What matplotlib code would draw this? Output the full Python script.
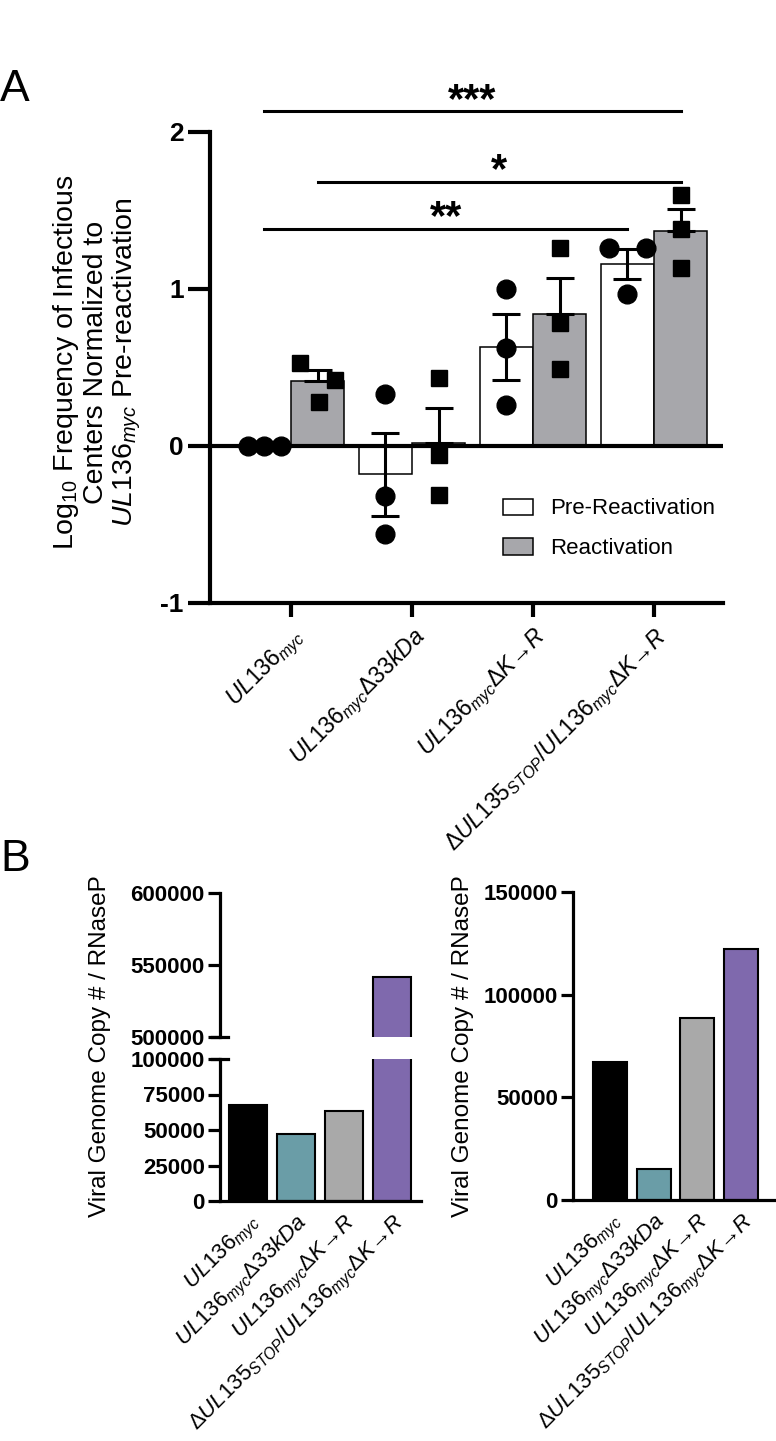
import matplotlib
matplotlib.use("Agg")
import matplotlib.pyplot as plt
from matplotlib.patches import Patch
from matplotlib.lines import Line2D
import numpy as np

plt.rcParams['font.family'] = ['Liberation Sans', 'DejaVu Sans']
plt.rcParams['mathtext.fontset'] = 'custom'
plt.rcParams['mathtext.rm'] = 'Liberation Sans'
plt.rcParams['mathtext.it'] = 'Liberation Sans:italic'
plt.rcParams['mathtext.bf'] = 'Liberation Sans:bold'

# ---------------- data ----------------
labels = [r"$\mathit{UL136}_{\mathit{myc}}$",
          r"$\mathit{UL136}_{\mathit{myc}}\mathit{Δ33kDa}$",
          r"$\mathit{UL136}_{\mathit{myc}}\mathit{ΔK→R}$",
          r"$\mathit{ΔUL135}_{\mathit{STOP}}\mathit{/UL136}_{\mathit{myc}}\mathit{ΔK→R}$"]

pre_mean = [0.0, -0.18, 0.63, 1.16]
pre_sem = [0.0, 0.265, 0.21, 0.095]
re_mean = [0.41, 0.02, 0.84, 1.37]
re_sem = [0.07, 0.22, 0.23, 0.14]
pre_points = [[0.0, 0.0, 0.0], [0.33, -0.32, -0.56], [1.0, 0.62, 0.26], [1.26, 1.26, 0.97]]
re_points = [[0.53, 0.28, 0.42], [0.43, -0.06, -0.31], [1.26, 0.78, 0.49], [1.60, 1.38, 1.13]]

sig_labels = ["***", "*", "**"]
sig_from = [(0, 'pre'), (0, 're'), (0, 'pre')]
sig_to = [(3, 're'), (3, 're'), (3, 'pre')]
sig_level = [2.13, 1.68, 1.38]

legend_labels = ["Pre-Reactivation", "Reactivation"]

copy_left = [67600, 47200, 63400, 542000]
copy_right = [67200, 15200, 88700, 122000]
copy_colors = ['#000000', '#6A9DA7', '#A9A9A9', '#7F69AD']

ylabel_A = ("Log$_{\\mathregular{10}}$ Frequency of Infectious\nCenters Normalized to\n"
            "$\\mathit{UL136}_{\\mathit{myc}}$ Pre-reactivation")
ylabel_B = "Viral Genome Copy # / RNaseP"

# ---------------- style / layout ----------------
W, H = 776, 1441
fig = plt.figure(figsize=(W / 100, H / 100), dpi=100)

def fax(x0, y0, x1, y1):
    # pixel box (left, top, right, bottom) -> figure fraction
    return [x0 / W, 1 - y1 / H, (x1 - x0) / W, (y1 - y0) / H]

bw = 0.44
pre_jit = [[-0.14, 0.0, 0.14], [0, 0, 0], [0, 0, 0], [-0.15, 0.15, 0.0]]
re_jit = [[-0.145, 0.01, 0.14], [0, 0, 0], [0, 0, 0], [0, 0, 0]]
gray = '#A7A7AB'

# ---------------- panel A ----------------
axA = fig.add_axes(fax(210, 61, 723, 603))
x = np.arange(len(labels))
axA.bar(x - bw / 2, pre_mean, bw, color='white', edgecolor='black', linewidth=1.1, zorder=2)
axA.bar(x + bw / 2, re_mean, bw, color=gray, edgecolor='black', linewidth=1.1, zorder=2)
axA.axhline(0, color='black', lw=3, zorder=3)
for i in range(len(labels)):
    if pre_sem[i] > 0:
        axA.errorbar(x[i] - bw / 2, pre_mean[i], yerr=pre_sem[i], fmt='none', ecolor='black',
                     elinewidth=2.2, capsize=10, capthick=2.2, zorder=4)
    axA.errorbar(x[i] + bw / 2, re_mean[i], yerr=[[0], [re_sem[i]]], fmt='none', ecolor='black',
                 elinewidth=2.2, capsize=10, capthick=2.2, zorder=4)
    axA.plot(x[i] - bw / 2 + np.array(pre_jit[i]), pre_points[i], 'o', color='black', ms=13.5, zorder=5)
    axA.plot(x[i] + bw / 2 + np.array(re_jit[i]), re_points[i], 's', color='black', ms=12, zorder=5)

def pos(g, s):
    return g - bw / 2 if s == 'pre' else g + bw / 2

for lab, f, t, lev in zip(sig_labels, sig_from, sig_to, sig_level):
    x1, x2 = pos(*f), pos(*t)
    axA.plot([x1, x2], [lev, lev], color='black', lw=2.2, zorder=4, clip_on=False)
    axA.text((x1 + x2) / 2, lev - 0.06, lab, ha='center', va='bottom', fontsize=30,
             fontweight='bold')

axA.set_xlim(-0.67, 3.57)
axA.set_ylim(-1, 2.45)
axA.set_yticks([-1, 0, 1, 2])
axA.set_yticklabels(['-1', '0', '1', '2'])
axA.spines['left'].set_bounds(-1, 2)
for s in ['top', 'right']:
    axA.spines[s].set_visible(False)
for s in ['left', 'bottom']:
    axA.spines[s].set_linewidth(3)
axA.tick_params(axis='y', length=16, width=3, labelsize=19, pad=3)
axA.tick_params(axis='x', length=10, width=3, pad=5)
for t in axA.get_yticklabels():
    t.set_fontweight('bold')
axA.set_xticks(x)
axA.set_xticklabels(labels, rotation=45, ha='right', va='top', rotation_mode='anchor', fontsize=16.5)
fig.text(97 / W, 1 - 362 / H, ylabel_A, rotation=90, ha='center', va='center', fontsize=20.5,
         multialignment='center', linespacing=1.08)

handles = [Patch(facecolor='white', edgecolor='black', linewidth=1.1),
           Patch(facecolor=gray, edgecolor='black', linewidth=1.1)]
axA.legend(handles, legend_labels, loc='upper left', bbox_to_anchor=(0.572, 0.193), frameon=False,
           fontsize=16, handlelength=1.35, handleheight=0.75, handletextpad=0.75, labelspacing=0.85,
           borderpad=0, borderaxespad=0)

fig.text(0 / W, 1 - 101 / H, "A", fontsize=32, ha='left', va='baseline')
fig.text(0 / W, 1 - 871 / H, "B", fontsize=32, ha='left', va='baseline')

# ---------------- panel B left (broken axis) ----------------
xb = np.arange(len(copy_left))
axU = fig.add_axes(fax(220, 893, 421, 1037))
axL = fig.add_axes(fax(220, 1059, 421, 1201))
for ax in (axU, axL):
    ax.bar(xb, copy_left, 0.79, color=copy_colors, edgecolor='black', linewidth=1.5, zorder=2)
    ax.set_xlim(-0.58, 3.6)
    for s in ['top', 'right']:
        ax.spines[s].set_visible(False)
    for s in ['left', 'bottom']:
        ax.spines[s].set_linewidth(2.3)
    ax.tick_params(axis='y', length=9, width=2.3, labelsize=16, pad=2)
axU.set_ylim(500000, 600000)
axU.set_yticks([500000, 550000, 600000])
axU.spines['bottom'].set_visible(False)
axU.tick_params(axis='x', bottom=False, labelbottom=False)
axL.set_ylim(0, 100000)
axL.set_yticks([0, 25000, 50000, 75000, 100000])
for ax in (axU, axL):
    ax.set_yticklabels([f"{int(v)}" for v in ax.get_yticks()])
    for t in ax.get_yticklabels():
        t.set_fontweight('bold')
# break marks crossing the axis
for ax, yy in ((axU, 0), (axL, 1)):
    ax.add_line(Line2D([-0.04, 0.04], [yy, yy], transform=ax.transAxes, color='black', lw=2.3,
                       clip_on=False))
axL.tick_params(axis='x', length=0, pad=7)
axL.set_xticks(xb)
axL.set_xticklabels(labels, rotation=45, ha='right', va='top', rotation_mode='anchor', fontsize=16)
fig.text(100 / W, 1 - 1046 / H, ylabel_B, rotation=90, ha='center', va='center', fontsize=17.5)

# ---------------- panel B right ----------------
axR = fig.add_axes(fax(573, 892, 776, 1200))
axR.bar(xb, copy_right, 0.78, color=copy_colors, edgecolor='black', linewidth=1.5, zorder=2)
axR.set_xlim(-0.85, 3.8)
axR.set_ylim(0, 150000)
axR.set_yticks([0, 50000, 100000, 150000])
axR.set_yticklabels([f"{v}" for v in [0, 50000, 100000, 150000]])
for s in ['top', 'right']:
    axR.spines[s].set_visible(False)
for s in ['left', 'bottom']:
    axR.spines[s].set_linewidth(2.3)
axR.tick_params(axis='y', length=9, width=2.3, labelsize=16, pad=2)
for t in axR.get_yticklabels():
    t.set_fontweight('bold')
axR.tick_params(axis='x', length=0, pad=7)
axR.set_xticks(xb)
axR.set_xticklabels(labels, rotation=45, ha='right', va='top', rotation_mode='anchor', fontsize=16)
fig.text(463 / W, 1 - 1046 / H, ylabel_B, rotation=90, ha='center', va='center', fontsize=17.5)

fig.savefig("out.png", dpi=100)
